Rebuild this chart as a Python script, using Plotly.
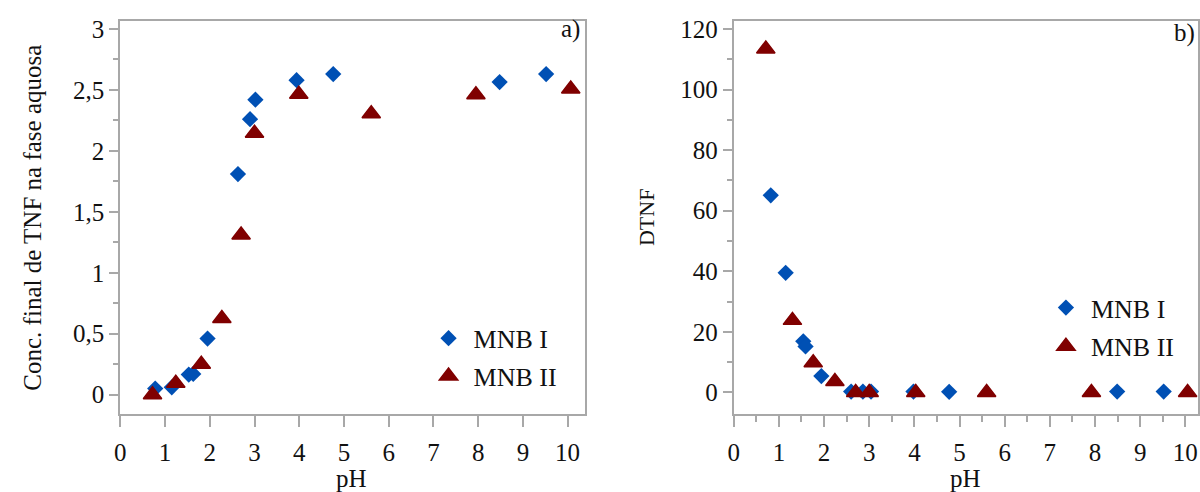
import plotly.graph_objects as go

# Panel a) final TNF concentration in the aqueous phase vs pH
ph_a_mnb1 = [0.78, 1.15, 1.53, 1.63, 1.95, 2.63, 2.90, 3.02, 3.94, 4.76, 8.48, 9.52]
conc_mnb1 = [0.05, 0.06, 0.165, 0.17, 0.46, 1.81, 2.26, 2.42, 2.58, 2.63, 2.565, 2.63]
ph_a_mnb2 = [0.72, 1.24, 1.81, 2.27, 2.70, 3.00, 3.99, 5.61, 7.95, 10.07]
conc_mnb2 = [0.0, 0.093, 0.25, 0.625, 1.31, 2.145, 2.465, 2.305, 2.46, 2.508]

# Panel b) DTNF vs pH
ph_b_mnb1 = [0.82, 1.15, 1.54, 1.59, 1.94, 2.60, 2.86, 3.04, 3.98, 4.77, 8.49, 9.52]
dtnf_mnb1 = [65.1, 39.5, 16.9, 15.2, 5.4, 0.3, 0.3, 0.3, 0.3, 0.2, 0.3, 0.3]
ph_b_mnb2 = [0.71, 1.30, 1.76, 2.24, 2.70, 3.00, 4.03, 5.60, 7.92, 10.05]
dtnf_mnb2 = [113.4, 23.8, 9.8, 3.6, 0.0, 0.0, 0.0, 0.0, 0.0, 0.0]

x_ticks = list(range(0, 11))
y_ticks_a = [0, 0.5, 1, 1.5, 2, 2.5, 3]
y_labels_a = ["0", "0,5", "1", "1,5", "2", "2,5", "3"]
y_ticks_b = [0, 20, 40, 60, 80, 100, 120]

series_names = ["MNB I", "MNB II"]

BLUE = "#0050b4"
DARKRED = "#800000"
AXIS_GRAY = "#a8a8a8"
FONT = "Liberation Serif, Times New Roman, serif"
TICK_SIZE = 25

fig = go.Figure()

fig.add_trace(go.Scatter(
    x=ph_a_mnb1, y=conc_mnb1, mode="markers", name=series_names[0],
    marker=dict(symbol="diamond", size=12.5, color=BLUE),
    xaxis="x", yaxis="y", legend="legend", legendgroup="a1"))
fig.add_trace(go.Scatter(
    x=ph_a_mnb2, y=conc_mnb2, mode="markers", name=series_names[1],
    marker=dict(symbol="triangle-up", size=16, color=DARKRED,
                line=dict(color=DARKRED, width=1.5)),
    xaxis="x", yaxis="y", legend="legend", legendgroup="a2"))
fig.add_trace(go.Scatter(
    x=ph_b_mnb1, y=dtnf_mnb1, mode="markers", name=series_names[0],
    marker=dict(symbol="diamond", size=12.5, color=BLUE),
    xaxis="x2", yaxis="y2", legend="legend2", legendgroup="b1"))
fig.add_trace(go.Scatter(
    x=ph_b_mnb2, y=dtnf_mnb2, mode="markers", name=series_names[1],
    marker=dict(symbol="triangle-up", size=16, color=DARKRED,
                line=dict(color=DARKRED, width=1.5)),
    xaxis="x2", yaxis="y2", legend="legend2", legendgroup="b2"))

W, H = 1200, 492


def px_x(p):
    return p / W


def px_y(p):
    return 1 - p / H


common_axis = dict(
    showline=True, linecolor=AXIS_GRAY, linewidth=2, mirror=True,
    showgrid=False, zeroline=False, ticks="outside", tickcolor=AXIS_GRAY,
    tickwidth=2, tickfont=dict(family=FONT, size=TICK_SIZE, color="#111"),
)

fig.update_layout(
    width=W, height=H,
    margin=dict(l=0, r=0, t=0, b=0),
    paper_bgcolor="white", plot_bgcolor="white",
    font=dict(family=FONT, color="#111"),
    xaxis=dict(common_axis, domain=[px_x(115), px_x(582)], range=[0, 10.38],
               tickvals=x_ticks, ticklen=11, ticklabelstandoff=4, anchor="y"),
    yaxis=dict(common_axis, domain=[px_y(413), px_y(16)], range=[-0.157, 3.067],
               tickvals=y_ticks_a, ticktext=y_labels_a, ticklen=9, anchor="x",
               minor=dict(dtick=0.25, tick0=0, ticks="outside", ticklen=5,
                          tickcolor=AXIS_GRAY, tickwidth=2)),
    xaxis2=dict(common_axis, domain=[px_x(732), px_x(1199)], range=[0, 10.28],
                tickvals=x_ticks, ticklen=11, ticklabelstandoff=4, anchor="y2",
                minor=dict(dtick=0.5, tick0=0, ticks="outside", ticklen=6,
                           tickcolor=AXIS_GRAY, tickwidth=2)),
    yaxis2=dict(common_axis, domain=[px_y(413), px_y(16)], range=[-7.05, 122.7],
                tickvals=y_ticks_b, ticklen=9, anchor="x2",
                minor=dict(dtick=10, tick0=0, ticks="outside", ticklen=5,
                           tickcolor=AXIS_GRAY, tickwidth=2)),
    legend=dict(x=px_x(420), y=px_y(313), xanchor="left", yanchor="top",
                bgcolor="rgba(0,0,0,0)", itemwidth=40, tracegroupgap=1,
                font=dict(family=FONT, size=26, color="#111")),
    legend2=dict(x=px_x(1041), y=px_y(282), xanchor="left", yanchor="top",
                 bgcolor="rgba(0,0,0,0)", itemwidth=40, tracegroupgap=2,
                 font=dict(family=FONT, size=26, color="#111")),
    showlegend=True,
)

annotations = [
    dict(text="pH", x=px_x(348), y=px_y(478), xref="paper", yref="paper",
         showarrow=False, xanchor="center", yanchor="middle",
         font=dict(family=FONT, size=25, color="#111")),
    dict(text="pH", x=px_x(965), y=px_y(478), xref="paper", yref="paper",
         showarrow=False, xanchor="center", yanchor="middle",
         font=dict(family=FONT, size=25, color="#111")),
    dict(text="Conc. final de TNF na fase aquosa", x=px_x(27), y=px_y(215),
         xref="paper", yref="paper", showarrow=False, textangle=-90,
         xanchor="center", yanchor="middle",
         font=dict(family=FONT, size=25, color="#111")),
    dict(text="DTNF", x=px_x(645), y=px_y(215), xref="paper", yref="paper",
         showarrow=False, textangle=-90, xanchor="center", yanchor="middle",
         font=dict(family=FONT, size=22, color="#111")),
    dict(text="a)", x=px_x(579), y=px_y(24), xref="paper", yref="paper",
         showarrow=False, xanchor="right", yanchor="middle",
         font=dict(family=FONT, size=25, color="#111")),
    dict(text="b)", x=px_x(1198), y=px_y(28), xref="paper", yref="paper",
         showarrow=False, xanchor="right", yanchor="middle",
         font=dict(family=FONT, size=25, color="#111")),
]
fig.update_layout(annotations=annotations)

fig.write_html("out.html")
